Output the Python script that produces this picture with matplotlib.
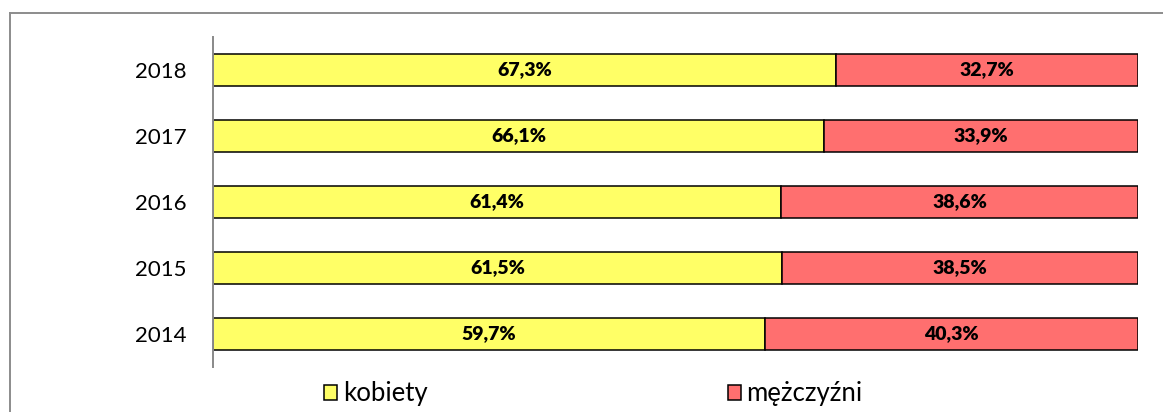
import matplotlib
matplotlib.use("Agg")
import matplotlib.pyplot as plt
from matplotlib.lines import Line2D
from matplotlib.patches import Patch

years = ["2014", "2015", "2016", "2017", "2018"]
kobiety = [59.7, 61.5, 61.4, 66.1, 67.3]
mezczyzni = [40.3, 38.5, 38.6, 33.9, 32.7]
series_names = ["kobiety", "mężczyźni"]
colors = ["#FFFF66", "#FF6F6F"]

plt.rcParams['font.family'] = ['Lato', 'DejaVu Sans']

fig = plt.figure(figsize=(11.63, 4.12), dpi=100)
ax = fig.add_axes([213/1163, 1-367/412, (1138-213)/1163, 330/412])

y = list(range(len(years)))
ax.barh(y, kobiety, height=0.48, color=colors[0], edgecolor="black", linewidth=1.1)
ax.barh(y, mezczyzni, left=kobiety, height=0.48, color=colors[1], edgecolor="black", linewidth=1.1)

for i in y:
    ax.text(kobiety[i]/2, i, f"{kobiety[i]:.1f}%".replace(".", ","), ha="center", va="center",
            fontsize=14, fontweight="heavy", color="black")
    ax.text(kobiety[i] + mezczyzni[i]/2, i, f"{mezczyzni[i]:.1f}%".replace(".", ","), ha="center", va="center",
            fontsize=14, fontweight="heavy", color="black")

ax.set_xlim(0, 100)
ax.set_ylim(-0.5, len(years)-0.5)
ax.set_yticks(y)
ax.set_yticklabels(years, fontsize=16)
ax.tick_params(axis="y", length=0, pad=19)
ax.set_xticks([])
for s in ["top", "right", "bottom"]:
    ax.spines[s].set_visible(False)
ax.spines["left"].set_color("#898989")
ax.spines["left"].set_linewidth(1.4)

handles = [Patch(facecolor=c, edgecolor="black", linewidth=1.1) for c in colors]
fig.legend(handles, series_names, loc="center", bbox_to_anchor=(593.5/1163, 1-394/412), ncol=2,
           frameon=False, fontsize=18.5, handlelength=0.5, handleheight=0.5, handletextpad=0.22,
           columnspacing=11.7, borderpad=0.2)

# outer frame (partially visible)
fig.add_artist(Line2D([9.5/1163, 9.5/1163], [0, 1-12.5/412], transform=fig.transFigure, color="#8c8c8c", lw=1.4))
fig.add_artist(Line2D([9.5/1163, 1], [1-12.5/412, 1-12.5/412], transform=fig.transFigure, color="#8c8c8c", lw=1.4))

fig.savefig("out.png", dpi=100)
